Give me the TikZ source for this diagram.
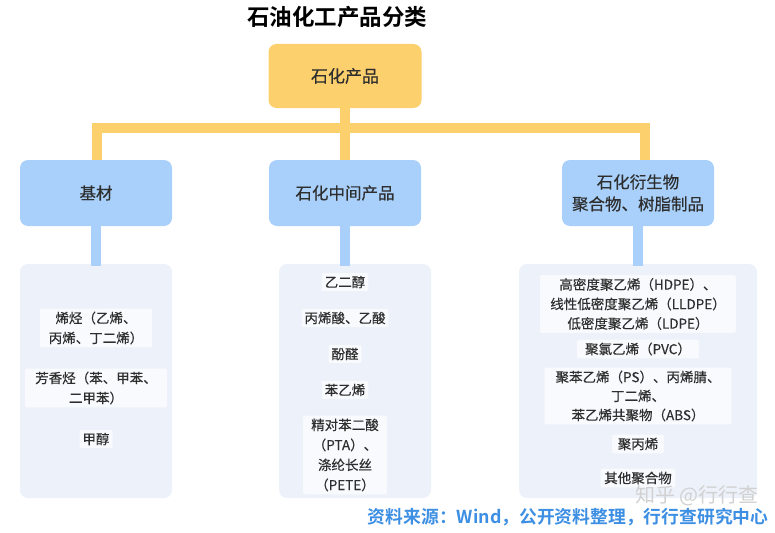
\documentclass[tikz,border=0pt]{standalone}
\usepackage{fontspec}
\setmainfont{Noto Sans CJK SC}
\newfontfamily\cjkbold{Noto Sans CJK SC}[BoldFont={* Bold}]
\newfontfamily\cjkmed{Noto Sans CJK SC}[FakeBold=0.35]
\definecolor{ylw}{HTML}{FDD06E}
\definecolor{blu}{HTML}{A8D0FA}
\definecolor{pnl}{HTML}{ECF1FA}
\definecolor{itm}{HTML}{F8FAFD}
\definecolor{txt}{HTML}{2E2E2E}
\definecolor{src}{HTML}{3D8FE3}
\tikzset{
  topbox/.style={fill=ylw, rounded corners=8pt, minimum width=153pt, minimum height=64pt, text=txt, font=\cjkmed\fontsize{17}{20}\selectfont},
  catbox/.style={fill=blu, rounded corners=8pt, minimum width=152pt, minimum height=66pt, text=txt, font=\cjkmed\fontsize{16.5}{22}\selectfont, align=center},
  panel/.style={fill=pnl, rounded corners=8pt},
  item/.style={fill=itm, rounded corners=2pt, text=txt, font=\cjkmed\fontsize{13.5}{20}\selectfont, align=center, inner sep=3pt},
  ybar/.style={draw=ylw, line width=10pt},
  bbar/.style={draw=blu, line width=10pt},
}
\begin{document}
\begin{tikzpicture}[x=1pt,y=-1pt]
\useasboundingbox (0,0) rectangle (775,532);
\fill[white] (0,0) rectangle (775,532);
\node[font=\cjkbold\bfseries\fontsize{22.5}{24}\selectfont] (title) at (337,17) {石油化工产品分类};
% connectors
\coordinate (bl) at (97,128);
\coordinate (bm) at (345,128);
\coordinate (br) at (645,128);
\draw[ybar] (345,100) -- (bm);
\draw[ybar, line cap=rect] (bl) -- (br);
\draw[ybar] (bl) -- (97,170);
\draw[ybar] (bm) -- (345,170);
\draw[ybar] (br) -- (645,170);
\node[topbox] (top) at (345,76) {石化产品};
\node[catbox] (c1) at (96,193) {基材};
\node[catbox] (c2) at (345,193) {石化中间产品};
\node[catbox] (c3) at (638,193) {石化衍生物\\聚合物、树脂制品};
% panels
\fill[panel] (20,264) rectangle (172,498);
\fill[panel] (279,264) rectangle (431,498);
\fill[panel] (519,264) rectangle (757,498);
\coordinate (p1) at (96,266);
\coordinate (p2) at (345,266);
\coordinate (p3) at (638,266);
\draw[bbar] (c1.south) -- (p1);
\draw[bbar] (c2.south) -- (p2);
\draw[bbar] (c3.south) -- (p3);
% left items
\node[item, minimum width=112pt] (l1) at (96,328) {烯烃（乙烯、\\丙烯、丁二烯）};
\node[item, minimum width=142pt] (l2) at (96,388) {芳香烃（苯、甲苯、\\二甲苯）};
\node[item] (l3) at (96,439) {甲醇};
% middle items
\node[item] (m1) at (345,282) {乙二醇};
\node[item] (m2) at (345,318) {丙烯酸、乙酸};
\node[item] (m3) at (345,354) {酚醛};
\node[item] (m4) at (345,390) {苯乙烯};
\node[item, minimum width=84pt] (m5) at (345,455) {精对苯二酸\\（PTA）、\\涤纶长丝\\（PETE）};
% right items
\node[item, minimum width=196pt, font=\cjkmed\fontsize{13.5}{19.5}\selectfont] (r1) at (638,304) {高密度聚乙烯（HDPE）、\\线性低密度聚乙烯（LLDPE）\\低密度聚乙烯（LDPE）};
\node[item, minimum width=122pt] (r2) at (638,349) {聚氯乙烯（PVC）};
\node[item, minimum width=187pt, font=\cjkmed\fontsize{13.5}{19}\selectfont] (r3) at (638,396) {聚苯乙烯（PS）、丙烯腈、\\丁二烯、\\苯乙烯共聚物（ABS）};
\node[item, minimum width=52pt] (r4) at (638,444) {聚丙烯};
\node[item, minimum width=75pt] (r5) at (638,478) {其他聚合物};
% watermark and source
\node[text=black!18, font=\fontsize{20}{22}\selectfont, anchor=east] (wm) at (762,496) {知乎 @行行查};
\node[text=src, font=\cjkbold\bfseries\fontsize{17.8}{20}\selectfont, anchor=east] (source) at (772,517) {资料来源：Wind，公开资料整理，行行查研究中心};
\end{tikzpicture}
\end{document}
